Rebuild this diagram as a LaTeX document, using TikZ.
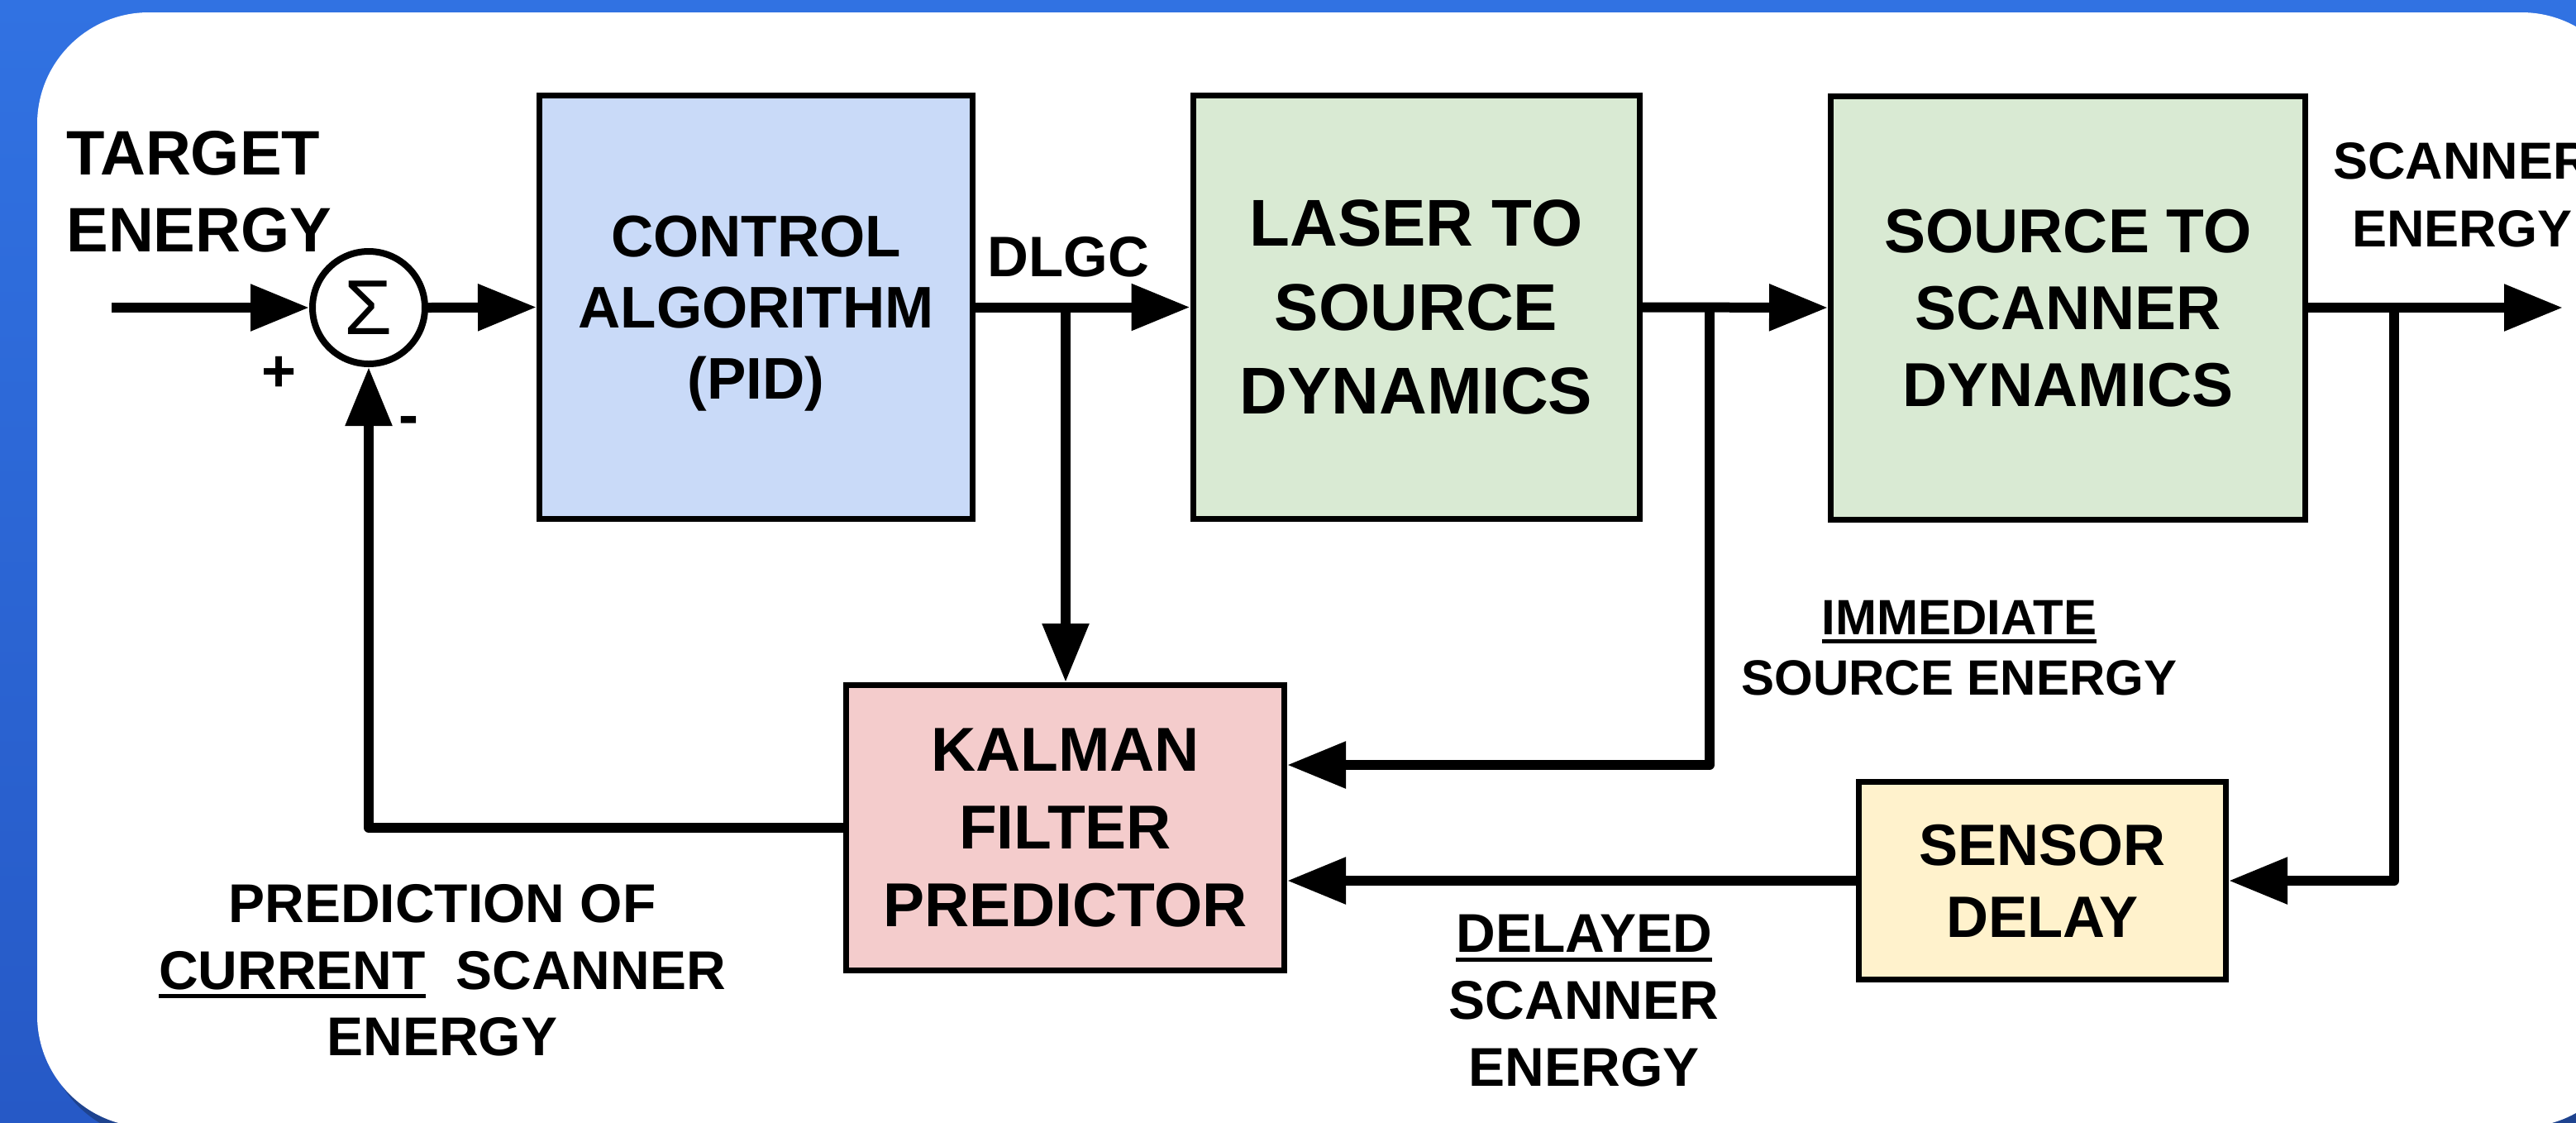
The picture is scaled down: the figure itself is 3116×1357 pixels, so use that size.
\documentclass[tikz,border=0pt]{standalone}
\usepackage{fontspec}
\setmainfont{Liberation Sans}
\usetikzlibrary{arrows.meta,calc}

\definecolor{ctrlBlue}{HTML}{C9DAF8}
\definecolor{dynGreen}{HTML}{D9EAD3}
\definecolor{kalRed}{HTML}{F4CCCC}
\definecolor{delayYel}{HTML}{FFF2CC}
\definecolor{bgTop}{HTML}{3172E2}
\definecolor{bgBot}{HTML}{2659C6}
\definecolor{navy}{HTML}{1B3A78}

% bold text at a given size and line pitch
\newcommand\fsz[2]{\fontsize{#1pt}{#2pt}\selectfont\bfseries}
% heavy underline
\newcommand\ulbar[1]{\setbox0\hbox{#1}\rlap{\rule[-5.5pt]{\wd0}{2.5pt}}\box0}

\tikzset{
  blk/.style={draw=black, line width=3.5pt, align=center, inner sep=0pt, text depth=0pt},
  wire/.style={line width=6pt, line join=round},
  arr/.style={wire, -{Triangle[length=35.5pt,width=27pt]}},
  lbl/.style={align=center, inner sep=0pt, text depth=0pt},
  sign/.style={font=\fsz{36}{36}, anchor=base, inner sep=0pt},
}

\begin{document}
\begin{tikzpicture}[x=0.5pt,y=-0.5pt]
\useasboundingbox (0,0) rectangle (3116,1357);

% backdrop and panel
\shade[top color=bgTop,bottom color=bgBot] (0,0) rectangle (3116,1357);
\fill[navy,opacity=0.7,rounded corners=67.5pt] (55,27) rectangle (3197,1377);
\fill[white,rounded corners=67.5pt] (45,15) rectangle (3185,1363);

% blocks
\node[blk,fill=ctrlBlue,minimum width=262pt,minimum height=256pt,font=\fsz{35.5}{43}]
  (ctrl) at (914.5,371.5) {CONTROL\\ALGORITHM\\(PID)};
\node[blk,fill=dynGreen,minimum width=270pt,minimum height=256pt,font=\fsz{40}{50.75}]
  (laser) at (1713,371.5) {LASER TO\\SOURCE\\DYNAMICS};
\node[blk,fill=dynGreen,minimum width=287pt,minimum height=256pt,font=\fsz{37.5}{46.5}]
  (source) at (2501.5,372) {SOURCE TO\\SCANNER\\DYNAMICS};
\node[blk,fill=kalRed,minimum width=265pt,minimum height=172.5pt,font=\fsz{37.5}{47}]
  (kalman) at (1288.5,1001) {KALMAN\\FILTER\\PREDICTOR};
\node[blk,fill=delayYel,minimum width=222pt,minimum height=119.5pt,font=\fsz{35.3}{43.5}]
  (sensor) at (2470.5,1065) {SENSOR\\DELAY};

% summing junction
\node[draw,circle,line width=4pt,minimum size=68pt,inner sep=0pt,
  font=\fontsize{47}{47}\selectfont] (sum) at (446,372) {Σ};

% signal paths
\coordinate (tgt) at (135,372);
\coordinate (dlgcTap) at (1289,372);
\coordinate (srcTap) at (2068,372);
\coordinate (scanTap) at (2896,372);
\coordinate (scanOut) at (3100,372);

\draw[arr] (tgt) -- (sum.west);
\draw[arr] (sum.east) -- (ctrl.west);
\draw[arr] (ctrl.east) -- (laser.west);
\draw[arr] (dlgcTap) -- (dlgcTap |- kalman.north);
\draw[arr] (laser.east) -- (source.west);
\draw[arr] (srcTap) |- ($(kalman.east)+(0,-76)$);
\draw[arr] (source.east) -- (scanOut);
\draw[arr] (scanTap) |- (sensor.east);
\draw[arr] (sensor.west) -- (sensor.west -| kalman.east);
\draw[arr] (kalman.west) -| (sum.south);

% signs
\node[sign] (plus) at (338,473) {+};
\node[sign] (minus) at (494,526) {-};

% signal labels
\node[lbl,anchor=west,align=left,font=\fsz{38}{46.5}] (target) at (80,231) {TARGET\\ENERGY};
\node[lbl,anchor=west,font=\fsz{34.5}{34.5}] (dlgc) at (1194,310) {DLGC};
\node[lbl,font=\fsz{31.5}{41}] (scanE) at (2978,235) {SCANNER\\ENERGY};
\node[lbl,font=\fsz{30}{36.5}] (immE) at (2370,783) {\ulbar{IMMEDIATE}\\SOURCE ENERGY};
\node[lbl,font=\fsz{33}{40.5}] (delE) at (1916,1210) {\ulbar{DELAYED}\\SCANNER\\ENERGY};
\node[lbl,font=\fsz{33}{40.25}] (predE) at (535,1173) {PREDICTION OF\\\ulbar{CURRENT}\ \ SCANNER\\ENERGY};
\end{tikzpicture}
\end{document}
